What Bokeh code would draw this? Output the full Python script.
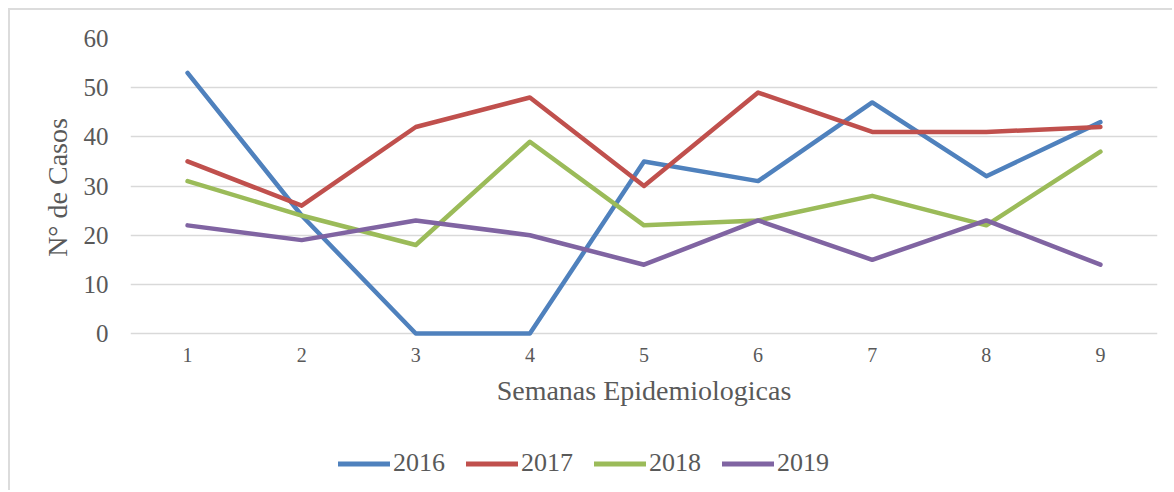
from bokeh.plotting import figure
from bokeh.layouts import column
from bokeh.models import Range1d, FixedTicker, Legend, LegendItem
from bokeh.embed import file_html
from bokeh.resources import INLINE

weeks = [1, 2, 3, 4, 5, 6, 7, 8, 9]
y2016 = [53, 24, 0, 0, 35, 31, 47, 32, 43]
y2017 = [35, 26, 42, 48, 30, 49, 41, 41, 42]
y2018 = [31, 24, 18, 39, 22, 23, 28, 22, 37]
y2019 = [22, 19, 23, 20, 14, 23, 15, 23, 14]
series_names = ["2016", "2017", "2018", "2019"]
colors = ["#4F81BD", "#C0504D", "#9BBB59", "#8064A2"]
y_ticks = [0, 10, 20, 30, 40, 50, 60]
series = [y2016, y2017, y2018, y2019]

FONT = "Liberation Serif"
TXT = "#595959"
BORDER = "2px solid #dcdcdc"

p = figure(width=1164, height=420, output_backend="svg", toolbar_location=None,
           x_range=Range1d(0.5, 9.5), y_range=Range1d(-0.6, 60),
           min_border_left=120, min_border_right=17, min_border_top=28,
           min_border_bottom=94,
           styles={"border-top": BORDER, "border-left": BORDER})
p.outline_line_color = None
p.background_fill_color = "white"
p.border_fill_color = "white"

p.xgrid.grid_line_color = None
p.ygrid.grid_line_color = "#d9d9d9"
p.ygrid.grid_line_width = 1.5
p.ygrid.ticker = FixedTicker(ticks=y_ticks)

p.xaxis.ticker = FixedTicker(ticks=weeks)
p.yaxis.ticker = FixedTicker(ticks=y_ticks)
for ax in (p.xaxis[0], p.yaxis[0]):
    ax.axis_line_color = None
    ax.major_tick_line_color = None
    ax.minor_tick_line_color = None
    ax.major_label_text_font = FONT
    ax.major_label_text_color = TXT
    ax.axis_label_text_font = FONT
    ax.axis_label_text_color = TXT
    ax.axis_label_text_font_style = "normal"

p.yaxis.major_label_text_font_size = "25px"
p.yaxis.major_label_standoff = 16
p.yaxis.axis_label = "N° de Casos"
p.yaxis.axis_label_text_font_size = "28px"
p.yaxis.axis_label_standoff = 8

p.xaxis.major_label_text_font_size = "20px"
p.xaxis.major_label_standoff = 5
p.xaxis.axis_label = "Semanas Epidemiologicas"
p.xaxis.axis_label_text_font_size = "28px"
p.xaxis.axis_label_standoff = 10

for ys, c in zip(series, colors):
    p.line(weeks, ys, line_color=c, line_width=4.5, line_cap="round", line_join="round")

# legend strip below the chart (its lines are out of view; only the legend shows)
pl = figure(width=1164, height=62, output_backend="svg", toolbar_location=None,
            x_range=Range1d(100, 101), y_range=Range1d(100, 101),
            x_axis_type=None, y_axis_type=None,
            min_border_left=0, min_border_right=0, min_border_top=0, min_border_bottom=0,
            styles={"border-left": BORDER})
pl.outline_line_color = None
pl.grid.visible = False
items = []
for name, ys, c in zip(series_names, series, colors):
    r = pl.line(weeks, ys, line_color=c, line_width=5, line_cap="round")
    items.append(LegendItem(label=name, renderers=[r]))
legend = Legend(items=items, orientation="horizontal", location=(208, 12),
                glyph_width=52, glyph_height=25, label_standoff=3, spacing=21,
                padding=0, margin=0, border_line_color=None, background_fill_alpha=0,
                label_text_font=FONT, label_text_font_size="26px", label_text_color=TXT)
pl.add_layout(legend, "center")

layout = column(p, pl, spacing=0, styles={"margin-left": "8px", "margin-top": "8px"})

open("out.html", "w").write(file_html(layout, INLINE))
